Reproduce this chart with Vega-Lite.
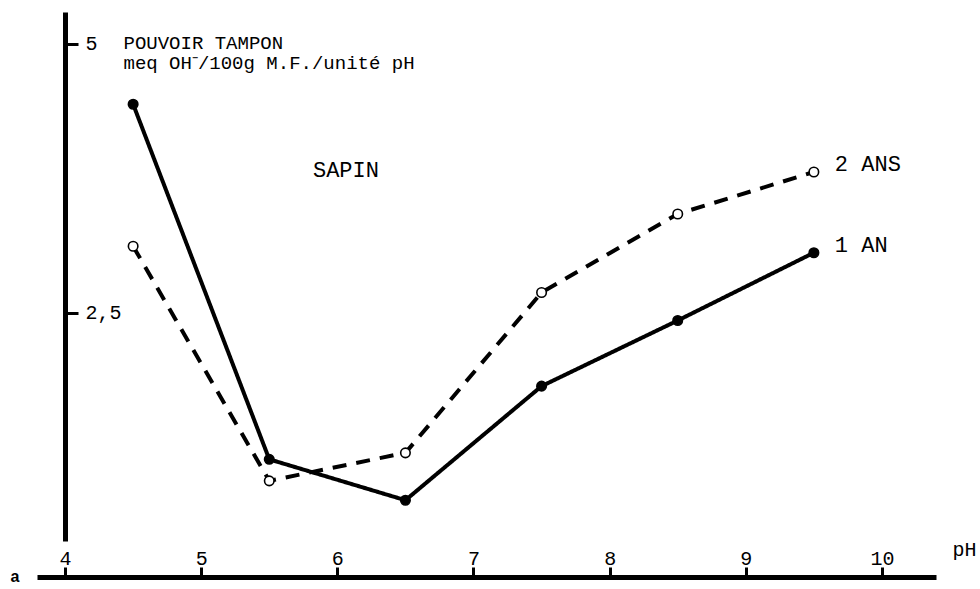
{
  "$schema": "https://vega.github.io/schema/vega-lite/v6.json",
  "width": 899,
  "height": 529,
  "autosize": {"type": "none"},
  "padding": {"left": 37, "top": 12, "right": 44, "bottom": 48},
  "background": "white",
  "config": {"view": {"stroke": null}, "font": "Liberation Mono"},
  "datasets": {
    "mesures": [
      {"pH": 4.5, "value": 4.44, "age": "1 AN"},
      {"pH": 5.5, "value": 1.14, "age": "1 AN"},
      {"pH": 6.5, "value": 0.76, "age": "1 AN"},
      {"pH": 7.5, "value": 1.82, "age": "1 AN"},
      {"pH": 8.5, "value": 2.43, "age": "1 AN"},
      {"pH": 9.5, "value": 3.06, "age": "1 AN"},
      {"pH": 4.5, "value": 3.12, "age": "2 ANS"},
      {"pH": 5.5, "value": 0.94, "age": "2 ANS"},
      {"pH": 6.5, "value": 1.20, "age": "2 ANS"},
      {"pH": 7.5, "value": 2.69, "age": "2 ANS"},
      {"pH": 8.5, "value": 3.42, "age": "2 ANS"},
      {"pH": 9.5, "value": 3.81, "age": "2 ANS"}
    ],
    "notes": [
      {"label": "SAPIN", "pH": 6.063, "value": 3.83}
    ],
    "panel": [
      {"label": "a", "pH": 3.632, "value": 0.05}
    ]
  },
  "layer": [
    {
      "data": {"name": "mesures"},
      "mark": {"type": "line", "strokeWidth": 4, "color": "black"},
      "encoding": {
        "x": {
          "field": "pH", "type": "quantitative",
          "scale": {"domain": [3.794, 10.397], "nice": false, "zero": false},
          "axis": {
            "values": [4, 5, 6, 7, 8, 9, 10],
            "format": "d",
            "title": "pH",
            "offset": 36,
            "grid": false,
            "domainWidth": 5, "domainColor": "black",
            "tickColor": "black", "tickWidth": 3, "tickSize": -10,
            "labelPadding": -19, "labelBaseline": "top",
            "labelFontSize": 20, "labelFont": "Liberation Mono", "labelColor": "black",
            "titleX": 915, "titleY": -22, "titleAlign": "left", "titleBaseline": "alphabetic",
            "titleFontWeight": "normal", "titleFontSize": 20, "titleFont": "Liberation Mono", "titleColor": "black"
          }
        },
        "y": {
          "field": "value", "type": "quantitative",
          "scale": {"domain": [0.381, 5.297], "nice": false, "zero": false},
          "axis": {
            "values": [2.5, 5],
            "offset": -28,
            "grid": false,
            "domainWidth": 5, "domainColor": "black",
            "tickColor": "black", "tickWidth": 3, "tickSize": -13,
            "labelAlign": "left", "labelPadding": -7,
            "labelExpr": "replace(format(datum.value, '~g'), '.', ',')",
            "labelFontSize": 20, "labelFont": "Liberation Mono", "labelColor": "black",
            "title": ["POUVOIR TAMPON", "meq OH⁻/100g M.F./unité pH"],
            "titleAngle": 0, "titleAlign": "left", "titleBaseline": "alphabetic",
            "titleX": 58, "titleY": 36, "titleLineHeight": 20,
            "titleFontSize": 19, "titleFontWeight": "normal", "titleFont": "Liberation Mono", "titleColor": "black"
          }
        },
        "detail": {"field": "age", "type": "nominal"},
        "strokeDash": {
          "field": "age", "type": "nominal",
          "scale": {"domain": ["1 AN", "2 ANS"], "range": [[1, 0], [14, 10]]},
          "legend": null
        }
      }
    },
    {
      "data": {"name": "mesures"},
      "mark": {"type": "point", "shape": "circle", "size": 90, "strokeWidth": 1.6, "stroke": "black", "opacity": 1},
      "encoding": {
        "x": {"field": "pH", "type": "quantitative"},
        "y": {"field": "value", "type": "quantitative"},
        "fill": {
          "field": "age", "type": "nominal",
          "scale": {"domain": ["1 AN", "2 ANS"], "range": ["black", "white"]},
          "legend": null
        }
      }
    },
    {
      "data": {"name": "mesures"},
      "transform": [{"filter": "datum.pH == 9.5"}],
      "mark": {"type": "text", "align": "left", "baseline": "middle", "dx": 21, "dy": -8, "fontSize": 22, "font": "Liberation Mono", "color": "black"},
      "encoding": {
        "x": {"field": "pH", "type": "quantitative"},
        "y": {"field": "value", "type": "quantitative"},
        "text": {"field": "age", "type": "nominal"}
      }
    },
    {
      "data": {"name": "notes"},
      "mark": {"type": "text", "align": "center", "baseline": "middle", "fontSize": 22, "font": "Liberation Mono", "color": "black"},
      "encoding": {
        "x": {"field": "pH", "type": "quantitative"},
        "y": {"field": "value", "type": "quantitative"},
        "text": {"field": "label", "type": "nominal"}
      }
    },
    {
      "data": {"name": "panel"},
      "mark": {"type": "text", "align": "center", "baseline": "middle", "fontSize": 16, "fontWeight": "bold", "font": "Liberation Sans", "color": "black"},
      "encoding": {
        "x": {"field": "pH", "type": "quantitative"},
        "y": {"field": "value", "type": "quantitative"},
        "text": {"field": "label", "type": "nominal"}
      }
    }
  ]
}
